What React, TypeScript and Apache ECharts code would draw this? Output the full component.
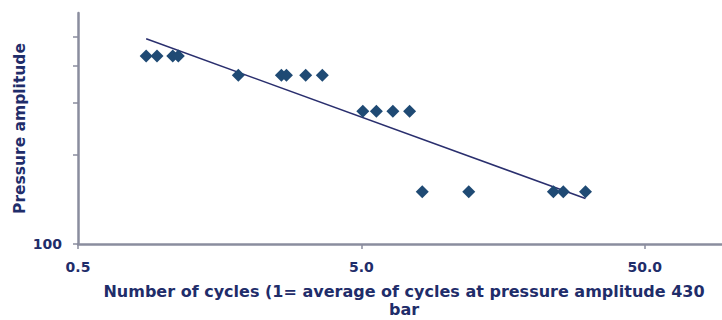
import React, { useEffect, useRef } from "react";
import * as echarts from "echarts";

const cycles = [0.87, 0.95, 1.08, 1.13, 1.84, 2.61, 2.72, 3.18, 3.64, 5.06, 5.65, 6.46, 7.4, 8.2, 11.97, 23.8, 25.8, 30.9];
const pressures = [430, 430, 430, 430, 370, 370, 370, 370, 370, 280, 280, 280, 280, 150, 150, 150, 150, 150];
const xTickValues = [0.5, 5, 50];
const yTickValues = [100, 200, 300, 400, 500];
const yLabelValues = [100];
const xTitle = "Number of cycles (1= average of cycles at pressure amplitude 430\nbar";
const yTitle = "Pressure amplitude";

function powerTrend(xs: number[], ys: number[]) {
  const lx = xs.map((v) => Math.log10(v));
  const ly = ys.map((v) => Math.log10(v));
  const n = lx.length;
  const mx = lx.reduce((a, b) => a + b, 0) / n;
  const my = ly.reduce((a, b) => a + b, 0) / n;
  let sxy = 0;
  let sxx = 0;
  for (let i = 0; i < n; i++) {
    sxy += (lx[i] - mx) * (ly[i] - my);
    sxx += (lx[i] - mx) * (lx[i] - mx);
  }
  const b = sxy / sxx;
  const a = my - b * mx;
  const x0 = Math.min(...xs);
  const x1 = Math.max(...xs);
  return [
    [x0, Math.pow(10, a + b * Math.log10(x0))],
    [x1, Math.pow(10, a + b * Math.log10(x1))],
  ];
}

const TEXT = "#1f2d6a";
const AXIS = "#8a8d9e";
const FONT = "DejaVu Sans";

export default function App() {
  const ref = useRef<HTMLDivElement>(null);
  useEffect(() => {
    if (!ref.current) return;
    const chart = echarts.init(ref.current, undefined, { renderer: "svg" });
    const trend = powerTrend(cycles, pressures);
    chart.setOption({
      animation: false,
      backgroundColor: "#ffffff",
      grid: { left: 78, top: 13, bottom: 76, right: -8, containLabel: false, outerBoundsMode: "none" },
      xAxis: {
        type: "log",
        logBase: 10,
        min: 0.5,
        max: 100,
        name: xTitle,
        nameLocation: "middle",
        nameGap: 38,
        nameMoveOverlap: false,
        nameTextStyle: { color: TEXT, fontFamily: FONT, fontWeight: "bold", fontSize: 16, lineHeight: 18 },
        axisLine: { show: true, lineStyle: { color: AXIS, width: 2.5 } },
        axisTick: { show: true, length: 5, lineStyle: { color: AXIS, width: 1.5 }, customValues: xTickValues },
        axisLabel: {
          show: true,
          customValues: xTickValues,
          margin: 16,
          color: TEXT,
          fontFamily: FONT,
          fontWeight: "bold",
          fontSize: 14,
          formatter: (v: number) => v.toFixed(1),
        },
        splitLine: { show: false },
        minorTick: { show: false },
      },
      yAxis: {
        type: "log",
        logBase: 10,
        min: 100,
        max: 600,
        name: yTitle,
        nameLocation: "middle",
        nameGap: 50,
        nameMoveOverlap: false,
        nameRotate: 90,
        nameTextStyle: { color: TEXT, fontFamily: FONT, fontWeight: "bold", fontSize: 15.5 },
        axisLine: { show: true, lineStyle: { color: AXIS, width: 2.5 } },
        axisTick: { show: true, length: 5, lineStyle: { color: AXIS, width: 1.5 }, customValues: yTickValues },
        axisLabel: {
          show: true,
          customValues: yLabelValues,
          margin: 16,
          color: TEXT,
          fontFamily: FONT,
          fontWeight: "bold",
          fontSize: 14,
          formatter: (v: number) => String(Math.round(v)),
        },
        splitLine: { show: false },
      },
      series: [
        {
          type: "line",
          data: trend,
          symbol: "none",
          lineStyle: { color: "#2a2f6e", width: 1.5 },
          z: 1,
        },
        {
          type: "scatter",
          data: cycles.map((c, i) => [c, pressures[i]]),
          symbol: "diamond",
          symbolSize: [13, 13],
          itemStyle: { color: "#1f4a74", opacity: 1 },
          z: 2,
        },
      ],
    });
    return () => chart.dispose();
  }, []);
  return (
    <div
      ref={ref}
      style={{ position: "fixed", left: 0, top: 0, width: 722, height: 320, overflow: "hidden" }}
    />
  );
}
